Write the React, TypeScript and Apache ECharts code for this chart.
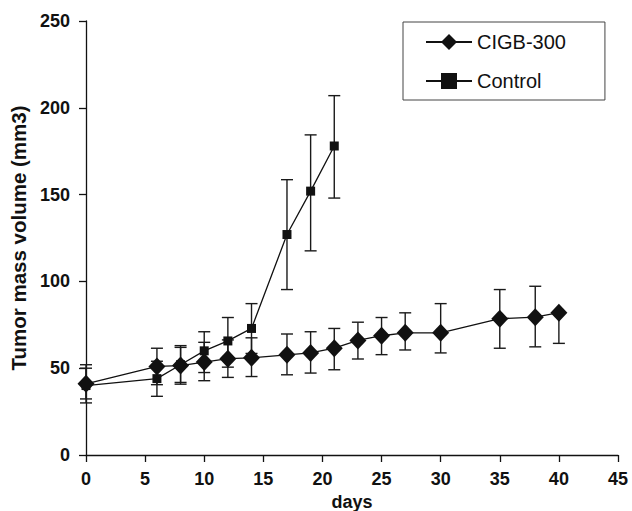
import React, { useEffect, useRef } from "react";
import * as echarts from "echarts";

const xTicks = [0, 5, 10, 15, 20, 25, 30, 35, 40, 45];
const yTicks = [0, 50, 100, 150, 200, 250];

const cigbDays = [0, 6, 8, 10, 12, 14, 17, 19, 21, 23, 25, 27, 30, 35, 38, 40];
const cigbMean = [41, 51, 51.5, 53.5, 55.5, 56, 57.7, 58.8, 61.5, 66, 68.7, 70.4, 70.4, 78.5, 79.4, 82];
const cigbLow = [30, 40.5, 40.8, 42.8, 44.7, 45.2, 46.2, 47.2, 49.1, 55.3, 57.8, 60.5, 58.8, 61.5, 62.3, 64.3];
const cigbHigh = [52, 61.5, 62, 64.9, 66.3, 67.5, 69.7, 71, 72.9, 76.5, 79.2, 81.9, 87.2, 95.3, 97.2, 82];

const ctrlDays = [0, 6, 8, 10, 12, 14, 17, 19, 21];
const ctrlMean = [40, 44, 52, 60, 65.7, 72.9, 127, 152, 178];
const ctrlLow = [32.3, 33.8, 41.8, 47.5, 50.6, 58.5, 95.3, 117.6, 148];
const ctrlHigh = [50, 54, 63, 71, 79.2, 87.2, 158.6, 184.4, 207];

const FONT = "Liberation Sans, Arial, sans-serif";

function errData(days: number[], low: number[], high: number[]) {
  return days.map((d, i) => [d, low[i], high[i]]);
}

const renderErr = (params: any, api: any) => {
  const x = api.value(0);
  const lo = api.coord([x, api.value(1)]);
  const hi = api.coord([x, api.value(2)]);
  const w = 6;
  const style = { stroke: "#1a1a1a", lineWidth: 1.4 };
  return {
    type: "group",
    children: [
      { type: "line", shape: { x1: lo[0], y1: lo[1], x2: hi[0], y2: hi[1] }, style },
      { type: "line", shape: { x1: hi[0] - w, y1: hi[1], x2: hi[0] + w, y2: hi[1] }, style },
      { type: "line", shape: { x1: lo[0] - w, y1: lo[1], x2: lo[0] + w, y2: lo[1] }, style },
    ],
  };
};

export default function App() {
  const ref = useRef<HTMLDivElement>(null);
  useEffect(() => {
    if (!ref.current) return;
    const chart = echarts.init(ref.current, undefined, { renderer: "svg" });
    const axisLabel = { color: "#111", fontFamily: FONT, fontWeight: "bold" as const, fontSize: 18 };
    chart.setOption({
      animation: false,
      backgroundColor: "#fff",
      grid: { left: 86, right: 14, top: 21, bottom: 56, containLabel: false, outerBoundsMode: "none" },
      legend: {
        orient: "vertical",
        left: 403,
        top: 22,
        padding: [10, 39, 9, 22],
        itemGap: 19,
        itemWidth: 46,
        itemHeight: 20,
        borderColor: "#444",
        borderWidth: 1,
        borderRadius: 0,
        textStyle: { fontFamily: FONT, fontSize: 20, color: "#111" },
        data: ["CIGB-300", "Control"],
      },
      xAxis: {
        type: "value",
        min: 0,
        max: 45,
        interval: 5,
        name: "days",
        nameLocation: "middle",
        nameGap: 37,
        nameTextStyle: { color: "#111", fontFamily: FONT, fontWeight: "bold", fontSize: 18 },
        axisLine: { lineStyle: { color: "#111", width: 1.3 } },
        axisTick: { show: true, length: 7, lineStyle: { color: "#111", width: 1.3 } },
        axisLabel: { ...axisLabel, margin: 15, formatter: (v: number) => (xTicks.includes(v) ? String(v) : "") },
        splitLine: { show: false },
      },
      yAxis: {
        type: "value",
        min: 0,
        max: 250,
        interval: 50,
        name: "Tumor mass volume (mm3)",
        nameLocation: "middle",
        nameGap: 57,
        nameTextStyle: { color: "#111", fontFamily: FONT, fontWeight: "bold", fontSize: 20.5 },
        axisLine: { show: true, lineStyle: { color: "#111", width: 1.3 } },
        axisTick: { show: true, length: 7, lineStyle: { color: "#111", width: 1.3 } },
        axisLabel: { ...axisLabel, margin: 16, formatter: (v: number) => (yTicks.includes(v) ? String(v) : "") },
        splitLine: { show: false },
      },
      series: [
        {
          type: "custom",
          name: "errCigb",
          renderItem: renderErr,
          data: errData(cigbDays, cigbLow, cigbHigh),
          z: 1,
          silent: true,
        },
        {
          type: "custom",
          name: "errCtrl",
          renderItem: renderErr,
          data: errData(ctrlDays, ctrlLow, ctrlHigh),
          z: 1,
          silent: true,
        },
        {
          type: "line",
          name: "Control",
          data: ctrlDays.map((d, i) => [d, ctrlMean[i]]),
          symbol: "rect",
          symbolSize: 9,
          itemStyle: { color: "#111" },
          lineStyle: { color: "#111", width: 1.3 },
          z: 3,
        },
        {
          type: "line",
          name: "CIGB-300",
          data: cigbDays.map((d, i) => [d, cigbMean[i]]),
          symbol: "diamond",
          symbolSize: [17, 18],
          itemStyle: { color: "#111" },
          lineStyle: { color: "#111", width: 1.3 },
          z: 4,
        },
      ],
    });
    return () => chart.dispose();
  }, []);
  return (
    <div
      ref={ref}
      style={{ position: "absolute", left: 0, top: 0, width: 632, height: 511 }}
    />
  );
}
